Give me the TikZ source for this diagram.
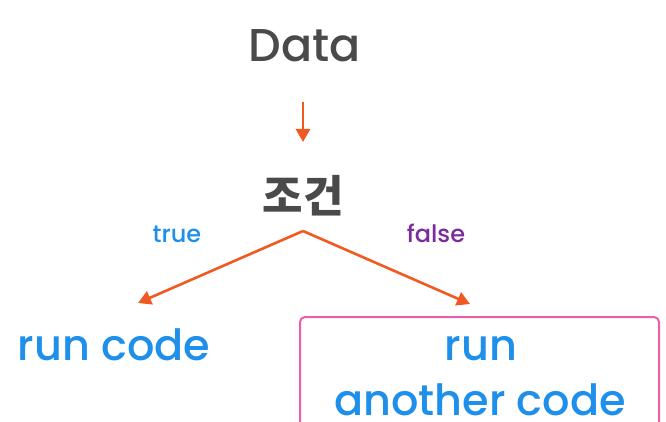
\documentclass[tikz,border=0pt]{standalone}
\usepackage{fontspec}
\setmainfont{Poppins}[BoldFont={Poppins Medium}]
\newfontfamily\krfont{Noto Sans CJK KR}
\usetikzlibrary{arrows.meta}
\definecolor{dgray}{HTML}{4A4A4A}
\definecolor{cblue}{HTML}{1E8FEA}
\definecolor{cpurple}{HTML}{7A2B9E}
\definecolor{corange}{HTML}{F05A22}
\definecolor{cpink}{HTML}{EA5FA8}
\tikzset{
  conn/.style={draw=corange, line width=2.6pt, -{Triangle[length=13pt,width=14pt]}},
  lbl/.style={inner sep=0pt, anchor=base},
}
\begin{document}
\begin{tikzpicture}[x=1pt,y=-1pt]
\useasboundingbox (0,0) rectangle (666,422);
\node[lbl, text=dgray, font=\fontsize{46}{50}\selectfont\bfseries] (data) at (305,62) {Data};
\coordinate (a1) at (303,102);
\coordinate (a2) at (303,142);
\draw[conn] (a1) -- (a2);
\node[lbl, text=dgray, font=\krfont\fontsize{44}{48}\selectfont\bfseries] (cond) at (303,212) {조건};
\coordinate (apex) at (303,231);
\coordinate (lt) at (138,303);
\coordinate (rt) at (470,304);
\draw[conn] (apex) -- (lt);
\draw[conn] (apex) -- (rt);
\node[lbl, text=cblue, font=\fontsize{24}{26}\selectfont\bfseries] (t) at (177,242) {true};
\node[lbl, text=cpurple, font=\fontsize{24}{26}\selectfont\bfseries] (f) at (436,242) {false};
\node[lbl, text=cblue, font=\fontsize{43}{46}\selectfont\bfseries] (run1) at (114,360) {run code};
\draw[cpink, line width=2pt, rounded corners=5pt] (300,440) -- (300,317) -- (659,317) -- (659,440);
\node[lbl, text=cblue, font=\fontsize{43}{46}\selectfont\bfseries] (run2) at (481,360) {run};
\node[lbl, text=cblue, font=\fontsize{43}{46}\selectfont\bfseries] (run3) at (480,415) {another code};
\end{tikzpicture}
\end{document}
